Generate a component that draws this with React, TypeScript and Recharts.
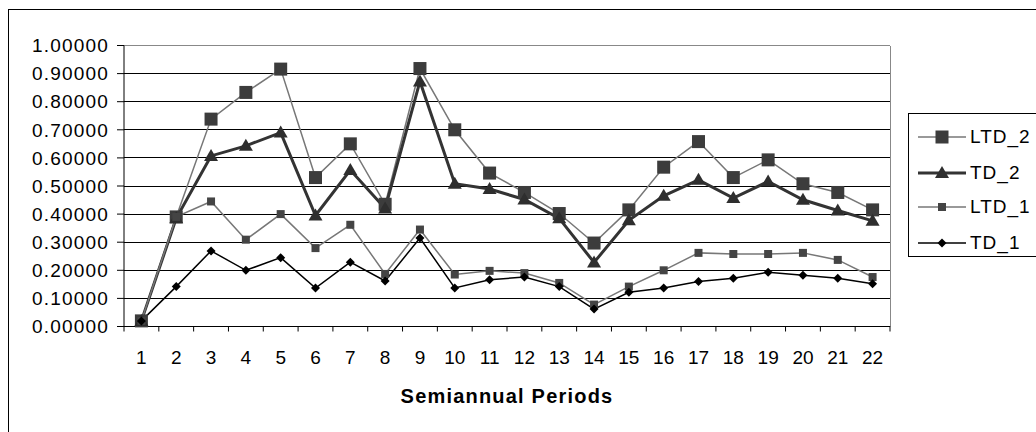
import { LineChart, Line, XAxis, YAxis, CartesianGrid, Label } from 'recharts';

const PERIODS = ['1', '2', '3', '4', '5', '6', '7', '8', '9', '10', '11', '12', '13', '14', '15', '16', '17', '18', '19', '20', '21', '22'];

const LTD_2 = [0.02, 0.39, 0.738, 0.833, 0.916, 0.53, 0.65, 0.435, 0.918, 0.70, 0.546, 0.477, 0.402, 0.297, 0.415, 0.567, 0.658, 0.53, 0.593, 0.508, 0.477, 0.415];
const TD_2 = [0.02, 0.385, 0.607, 0.643, 0.69, 0.395, 0.557, 0.42, 0.872, 0.508, 0.489, 0.452, 0.385, 0.228, 0.378, 0.465, 0.522, 0.457, 0.516, 0.451, 0.413, 0.376];
const LTD_1 = [0.02, 0.39, 0.445, 0.309, 0.40, 0.279, 0.362, 0.187, 0.345, 0.185, 0.198, 0.19, 0.155, 0.078, 0.142, 0.2, 0.262, 0.258, 0.258, 0.262, 0.237, 0.176];
const TD_1 = [0.02, 0.142, 0.269, 0.2, 0.245, 0.137, 0.229, 0.162, 0.315, 0.137, 0.166, 0.176, 0.142, 0.062, 0.122, 0.137, 0.16, 0.172, 0.193, 0.182, 0.172, 0.152];

const Y_TICKS = [0, 0.1, 0.2, 0.3, 0.4, 0.5, 0.6, 0.7, 0.8, 0.9, 1.0];

const data = PERIODS.map((period, i) => ({
  period,
  LTD_2: LTD_2[i],
  TD_2: TD_2[i],
  LTD_1: LTD_1[i],
  TD_1: TD_1[i],
}));

const FONT = '"Liberation Sans", Arial, sans-serif';

const square = (size: number, fill: string) => (props: any) => {
  const { cx, cy, index } = props;
  if (cx == null || cy == null) return <g key={index} />;
  return <rect key={index} x={cx - size / 2} y={cy - size / 2} width={size} height={size} fill={fill} />;
};

const triangle = (props: any) => {
  const { cx, cy, index } = props;
  if (cx == null || cy == null) return <g key={index} />;
  return <polygon key={index} points={`${cx},${cy - 7} ${cx - 7},${cy + 5} ${cx + 7},${cy + 5}`} fill="#2e2e2e" />;
};

const diamond = (props: any) => {
  const { cx, cy, index } = props;
  if (cx == null || cy == null) return <g key={index} />;
  return <polygon key={index} points={`${cx},${cy - 4.5} ${cx + 4.5},${cy} ${cx},${cy + 4.5} ${cx - 4.5},${cy}`} fill="#000" />;
};

// category label centred in its band, tick marks on the band boundaries (Excel style)
const PeriodTick = (props: any) => {
  const { x, y, payload, index, width } = props;
  const half = payload.offset || width / PERIODS.length / 2;
  return (
    <g>
      {index === 0 && <line x1={x - half} x2={x - half} y1={y} y2={y + 5} stroke="#000" />}
      <line x1={x + half} x2={x + half} y1={y} y2={y + 5} stroke="#000" />
      <text x={x} y={y + 37.5} textAnchor="middle" fontSize={19} fontFamily={FONT} fill="#000">
        {payload.value}
      </text>
    </g>
  );
};

const LEGEND = [
  { name: 'LTD_2', stroke: '#777', width: 1.5, marker: 'bigSquare' },
  { name: 'TD_2', stroke: '#333', width: 3, marker: 'triangle' },
  { name: 'LTD_1', stroke: '#777', width: 1.5, marker: 'smallSquare' },
  { name: 'TD_1', stroke: '#000', width: 1.5, marker: 'diamond' },
];

function LegendIcon({ stroke, width, marker }: { stroke: string; width: number; marker: string }) {
  return (
    <svg width={50} height={20} style={{ display: 'block' }}>
      <line x1={1} x2={49} y1={10} y2={10} stroke={stroke} strokeWidth={width} />
      {marker === 'bigSquare' && <rect x={18.5} y={3.5} width={13} height={13} fill="#3c3c3c" />}
      {marker === 'triangle' && <polygon points="25,3 18,15 32,15" fill="#2e2e2e" />}
      {marker === 'smallSquare' && <rect x={21} y={6} width={8} height={8} fill="#444" />}
      {marker === 'diamond' && <polygon points="25,5.5 29.5,10 25,14.5 20.5,10" fill="#000" />}
    </svg>
  );
}

export default function App() {
  return (
    <div style={{ position: 'fixed', left: 0, top: 0, width: 1036, height: 432, overflow: 'hidden', background: '#fff' }}>
      <div style={{ position: 'absolute', left: 8, top: 9, width: 1100, height: 500, border: '1px solid #000' }} />
      <div style={{ position: 'absolute', left: 0, top: 0 }}>
        <LineChart width={1036} height={432} data={data} margin={{ top: 45.5, right: 146, left: 8, bottom: 65.5 }}>
          <CartesianGrid vertical={false} stroke="#000" shapeRendering="crispEdges" />
          <CartesianGrid
            stroke="#888"
            shapeRendering="crispEdges"
            horizontalCoordinatesGenerator={(p: any) => [p.offset?.top ?? 45.5]}
            verticalCoordinatesGenerator={(p: any) => [p.offset ? p.offset.left + p.offset.width : 890]}
          />
          <XAxis
            dataKey="period"
            scale="band"
            interval={0}
            tickLine={false}
            tickSize={0}
            tickMargin={0}
            height={40}
            axisLine={{ stroke: '#000' }}
            tick={<PeriodTick />}
          >
            <Label
              content={(p: any) => {
                const vb = p.viewBox;
                return (
                  <text
                    x={vb.x + vb.width / 2}
                    y={vb.y + 76.5}
                    textAnchor="middle"
                    fontSize={20}
                    fontWeight="bold"
                    letterSpacing={1.2}
                    fontFamily={FONT}
                    fill="#000"
                  >
                    Semiannual Periods
                  </text>
                );
              }}
            />
          </XAxis>
          <YAxis
            type="number"
            domain={[0, 1]}
            ticks={Y_TICKS}
            width={116}
            tickSize={7}
            tickMargin={8}
            tickFormatter={(v: number) => v.toFixed(5)}
            axisLine={{ stroke: '#000' }}
            tickLine={{ stroke: '#000' }}
            tick={{ fill: '#000', fontSize: 19, fontFamily: FONT, letterSpacing: 1.2 }}
          />
          <Line dataKey="LTD_2" stroke="#777" strokeWidth={1.5} dot={square(13, '#3c3c3c')} isAnimationActive={false} />
          <Line dataKey="TD_2" stroke="#333" strokeWidth={3} dot={triangle} isAnimationActive={false} />
          <Line dataKey="LTD_1" stroke="#777" strokeWidth={1.5} dot={square(8, '#444')} isAnimationActive={false} />
          <Line dataKey="TD_1" stroke="#000" strokeWidth={1.5} dot={diamond} isAnimationActive={false} />
        </LineChart>
      </div>
      <div
        style={{
          position: 'absolute',
          left: 908,
          top: 113,
          width: 200,
          height: 144,
          border: '1px solid #000',
          boxSizing: 'border-box',
          fontFamily: FONT,
          fontSize: 19,
          letterSpacing: 1,
        }}
      >
        {LEGEND.map((item, i) => (
          <div
            key={item.name}
            style={{ position: 'absolute', left: 8, top: [12, 48, 82, 118][i], display: 'flex', alignItems: 'center', height: 22 }}
          >
            <LegendIcon stroke={item.stroke} width={item.width} marker={item.marker} />
            <span style={{ marginLeft: 3 }}>{item.name}</span>
          </div>
        ))}
      </div>
    </div>
  );
}
